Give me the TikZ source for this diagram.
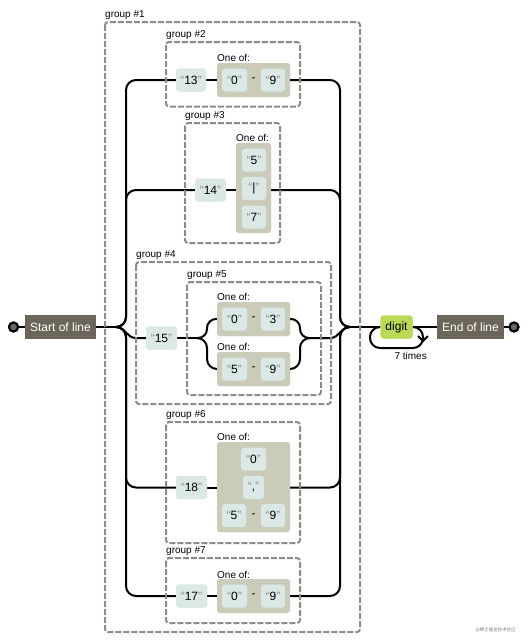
\documentclass[tikz,border=0pt]{standalone}
\usepackage{fontspec}
\setmainfont{Liberation Sans}
\newfontfamily\cjkfont{Noto Sans CJK SC}
\definecolor{anchorc}{HTML}{6B6659}
\definecolor{litc}{HTML}{DAE9E5}
\definecolor{csc}{HTML}{CBCBBA}
\definecolor{escc}{HTML}{BADA55}
\definecolor{quotec}{HTML}{908C83}
\definecolor{grpc}{HTML}{908C83}
\newcommand\qtxt[1]{\textcolor{quotec}{“}#1\textcolor{quotec}{”}}
\begin{document}
\begin{tikzpicture}[x=1pt,y=-1pt,
  conn/.style={line width=2pt, draw=black},
  grp/.style={draw=grpc, line width=2pt, dash pattern=on 6pt off 2pt, rounded corners=3pt},
  grplabel/.style={anchor=base west, inner sep=0pt, font=\fontsize{10}{12}\selectfont},
  lit/.style={fill=litc, rounded corners=3pt, inner sep=0pt, minimum height=23pt, font=\fontsize{12}{14}\selectfont},
  cset/.style={fill=csc, rounded corners=3pt, inner sep=0pt},
  anch/.style={fill=anchorc, text=white, inner sep=0pt, minimum height=24pt, font=\fontsize{12}{14}\selectfont},
  esc/.style={fill=escc, rounded corners=3pt, inner sep=0pt, minimum height=23pt, font=\fontsize{12}{14}\selectfont},
  term/.style={circle, draw=black, line width=2pt, fill=anchorc, minimum size=9pt, inner sep=0pt},
  plain/.style={inner sep=0pt, font=\fontsize{12}{14}\selectfont},
]
\useasboundingbox[fill=white] (0,0) rectangle (529,643);

% ---------- charset boxes (drawn under connectors' ends, over lines later) ----------
% coordinates
\coordinate (split) at (116,327);
\coordinate (L) at (126,327);
\coordinate (R) at (340,327);
\coordinate (merge) at (350,327);
\coordinate (c5s) at (197,338);
\coordinate (c5m) at (310,338);

% ---------- nodes ----------
\node[term] (sc) at (13.5,327) {};
\node[anch, minimum width=71pt] (start) at (60.5,327) {Start of line};
\node[esc, minimum width=32pt] (digit) at (396.5,327) {digit};
\node[anch, minimum width=67pt] (end) at (470.5,327) {End of line};
\node[term] (ec) at (514,327) {};

% row A
\node[lit, minimum width=30pt] (n13) at (191,80) {\qtxt{13}};
\node[cset, minimum width=73pt, minimum height=34pt] (csA) at (253.5,80) {};
% row B
\node[lit, minimum width=31pt] (n14) at (210.5,190) {\qtxt{14}};
\node[cset, minimum width=35pt, minimum height=90pt] (csB) at (253.5,188) {};
% row C
\node[lit, minimum width=31pt] (n15) at (161.5,338) {\qtxt{15}};
\node[cset, minimum width=73pt, minimum height=34pt] (csC1) at (253.5,319) {};
\node[cset, minimum width=73pt, minimum height=34pt] (csC2) at (253.5,369) {};
% row D
\node[lit, minimum width=31pt] (n18) at (191.5,487.5) {\qtxt{18}};
\node[cset, minimum width=73pt, minimum height=90pt] (csD) at (253.5,487) {};
% row E
\node[lit, minimum width=31pt] (n17) at (191.5,596) {\qtxt{17}};
\node[cset, minimum width=73pt, minimum height=34pt] (csE) at (253.5,596) {};

% ---------- connectors ----------
\draw[conn] (sc) -- (start.west);
\draw[conn] (start.east) -- (split);
\draw[conn, rounded corners=10pt] (split) -- (L) -- (L |- n13) -- (n13.west);
\draw[conn, rounded corners=10pt] (split) -- (L) -- (L |- n14) -- (n14.west);
\draw[conn, rounded corners=10pt] (split) -- (L) -- (L |- n18) -- (n18.west);
\draw[conn, rounded corners=10pt] (split) -- (L) -- (L |- n17) -- (n17.west);
\draw[conn] (split) .. controls (126,327) and (126,338) .. (136,338) -- (n15.west);

\draw[conn] (n13.east) -- (csA.west);
\draw[conn] (n14.east) -- (csB.west |- n14);
\draw[conn] (n18.east) -- (csD.west |- n18);
\draw[conn] (n17.east) -- (csE.west);
\draw[conn] (n15.east) -- (c5s);
\draw[conn, rounded corners=9pt] (c5s) -- (207,338) -- (207,319) -- (csC1.west);
\draw[conn, rounded corners=10pt] (c5s) -- (207,338) -- (207,369) -- (csC2.west);
\draw[conn, rounded corners=9pt] (csC1.east) -- (300,319) -- (300,338) -- (c5m);
\draw[conn, rounded corners=10pt] (csC2.east) -- (300,369) -- (300,338) -- (c5m);
\draw[conn] (c5m) -- (330,338) .. controls (340,338) and (340,327) .. (merge);

\draw[conn, rounded corners=10pt] (csA.east) -- (R |- csA.east) -- (R) -- (merge);
\draw[conn, rounded corners=10pt] (csB.east |- n14) -- (R |- n14) -- (R) -- (merge);
\draw[conn, rounded corners=10pt] (csD.east |- n18) -- (R |- n18) -- (R) -- (merge);
\draw[conn, rounded corners=10pt] (csE.east) -- (R |- csE.east) -- (R) -- (merge);

\draw[conn] (merge) -- (digit.west);
\draw[conn] (digit.east) -- (end.west);
\draw[conn] (end.east) -- (ec);
\draw[conn, rounded corners=10pt] (digit.east) -- (423,327) -- (423,348) -- (370,348) -- (370,327) -- (digit.west);
\draw[conn] (418,336) -- (423,341) -- (428,336);
\node[anchor=base east, inner sep=0pt, font=\fontsize{10}{12}\selectfont] (rep) at (427,359.5) {7 times};

% ---------- redraw boxes on top of lines ----------
\node[term] at (sc) {};
\node[term] at (ec) {};
\node[anch, minimum width=71pt] at (start) {Start of line};
\node[esc, minimum width=32pt] at (digit) {digit};
\node[anch, minimum width=67pt] at (end) {End of line};
\node[lit, minimum width=30pt] at (n13) {\qtxt{13}};
\node[lit, minimum width=31pt] at (n14) {\qtxt{14}};
\node[lit, minimum width=31pt] at (n15) {\qtxt{15}};
\node[lit, minimum width=31pt] at (n18) {\qtxt{18}};
\node[lit, minimum width=31pt] at (n17) {\qtxt{17}};
\node[cset, minimum width=73pt, minimum height=34pt] at (csA) {};
\node[cset, minimum width=35pt, minimum height=90pt] at (csB) {};
\node[cset, minimum width=73pt, minimum height=34pt] at (csC1) {};
\node[cset, minimum width=73pt, minimum height=34pt] at (csC2) {};
\node[cset, minimum width=73pt, minimum height=90pt] at (csD) {};
\node[cset, minimum width=73pt, minimum height=34pt] at (csE) {};

% charset contents
\node[lit, minimum width=25pt] (a0) at (234.5,80) {\qtxt{0}};
\node[plain] (ad) at (253.5,80) {-};
\node[lit, minimum width=24pt] (a9) at (273,80) {\qtxt{9}};

\node[lit, minimum width=24pt] (b5) at (254,160) {\qtxt{5}};
\node[lit, minimum width=24pt] (bp) at (254,188.5) {\qtxt{|}};
\node[lit, minimum width=24pt] (b7) at (254,217) {\qtxt{7}};

\node[lit, minimum width=25pt] (c0) at (234.5,319) {\qtxt{0}};
\node[plain] (cd) at (253.5,319) {-};
\node[lit, minimum width=24pt] (c3) at (273,319) {\qtxt{3}};
\node[lit, minimum width=25pt] (c5) at (234.5,369) {\qtxt{5}};
\node[plain] (cd2) at (253.5,369) {-};
\node[lit, minimum width=24pt] (c9) at (273,369) {\qtxt{9}};

\node[lit, minimum width=25pt] (d0) at (253.5,459) {\qtxt{0}};
\node[lit, minimum width=21pt] (dc) at (253.5,487.5) {\qtxt{,}};
\node[lit, minimum width=24pt] (d5) at (234,515.5) {\qtxt{5}};
\node[plain] (dd) at (253.5,515.5) {-};
\node[lit, minimum width=24pt] (d9) at (273,515.5) {\qtxt{9}};

\node[lit, minimum width=25pt] (e0) at (234.5,596) {\qtxt{0}};
\node[plain] (ed) at (253.5,596) {-};
\node[lit, minimum width=24pt] (e9) at (273,596) {\qtxt{9}};

% "One of:" labels
\node[grplabel] (oA) at (217,61) {One of:};
\node[grplabel] (oB) at (236,141) {One of:};
\node[grplabel] (oC1) at (217,300) {One of:};
\node[grplabel] (oC2) at (217,350) {One of:};
\node[grplabel] (oD) at (217,440) {One of:};
\node[grplabel] (oE) at (217,578) {One of:};

% ---------- groups ----------
\draw[grp] (105,22) rectangle (360,632);
\node[grplabel] (g1) at (105,17.5) {group \#1};
\draw[grp] (166,42) rectangle (300,106.5);
\node[grplabel] (g2) at (166,37.5) {group \#2};
\draw[grp] (185,123) rectangle (280,243);
\node[grplabel] (g3) at (185,118.5) {group \#3};
\draw[grp] (136,262) rectangle (331,404);
\node[grplabel] (g4) at (136,257.5) {group \#4};
\draw[grp] (187,282) rectangle (321,395);
\node[grplabel] (g5) at (187,277.5) {group \#5};
\draw[grp] (166,422) rectangle (300,543);
\node[grplabel] (g6) at (166,417.5) {group \#6};
\draw[grp] (166,558) rectangle (300,623);
\node[grplabel] (g7) at (166,553.5) {group \#7};

% watermark
\node[anchor=base east, inner sep=0pt, text=gray, font=\cjkfont\fontsize{4.5}{5}\selectfont] (wm) at (516,631) {@稀土掘金技术社区};
\end{tikzpicture}
\end{document}
